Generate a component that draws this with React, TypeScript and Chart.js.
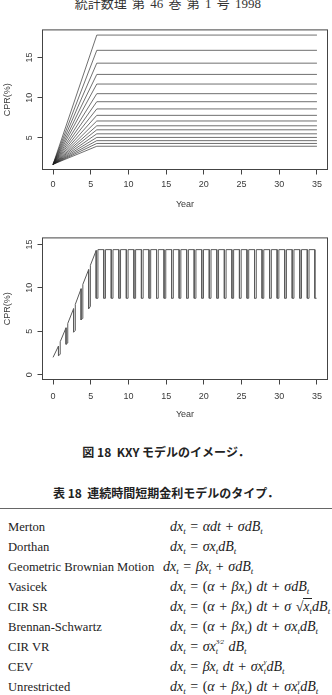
import React, { useEffect, useRef } from "react";
import { Chart, registerables } from "chart.js";

Chart.register(...registerables);

// ---------- data: chart 1 (fan of CPR paths) ----------
const fanYears = [0, 5.8, 35];
const fanStart = 1.7;
const fanLevels = [17.8, 15.9, 14.3, 12.9, 11.7, 10.5, 9.5, 8.6, 7.8, 7.1, 6.5, 6.0, 5.5, 5.05, 4.65, 4.3, 3.95];
const xTickValues = [0, 5, 10, 15, 20, 25, 30, 35];
const fanYTicks = [5, 10, 15];

// ---------- data: chart 2 (seasonal CPR path) ----------
const sawStartValue = 2.0;
const sawDipStartFrac = 0.72; // fraction of the year where the dip starts
const sawDipEndFrac = 0.95; // fraction of the year where the dip ends
const sawPeak = [3.3, 5.4, 7.6, 9.9, 12.1, 14.3,
  14.4, 14.4, 14.4, 14.4, 14.4, 14.4, 14.4, 14.4, 14.4, 14.4,
  14.4, 14.4, 14.4, 14.4, 14.4, 14.4, 14.4, 14.4, 14.4, 14.4,
  14.4, 14.4, 14.4, 14.4, 14.4, 14.4, 14.4, 14.4, 14.4];
const sawTroughStart = [2.2, 3.5, 4.9, 6.3, 7.6, 8.8,
  8.8, 8.8, 8.8, 8.8, 8.8, 8.8, 8.8, 8.8, 8.8, 8.8,
  8.8, 8.8, 8.8, 8.8, 8.8, 8.8, 8.8, 8.8, 8.8, 8.8,
  8.8, 8.8, 8.8, 8.8, 8.8, 8.8, 8.8, 8.8, 8.8];
const sawTroughEnd = [2.35, 3.65, 5.1, 6.5, 7.85, 8.8,
  8.8, 8.8, 8.8, 8.8, 8.8, 8.8, 8.8, 8.8, 8.8, 8.8,
  8.8, 8.8, 8.8, 8.8, 8.8, 8.8, 8.8, 8.8, 8.8, 8.8,
  8.8, 8.8, 8.8, 8.8, 8.8, 8.8, 8.8, 8.8, 8.8];
const sawResume = [3.8, 5.9, 8.1, 10.4, 12.6, 14.4,
  14.4, 14.4, 14.4, 14.4, 14.4, 14.4, 14.4, 14.4, 14.4, 14.4,
  14.4, 14.4, 14.4, 14.4, 14.4, 14.4, 14.4, 14.4, 14.4, 14.4,
  14.4, 14.4, 14.4, 14.4, 14.4, 14.4, 14.4, 14.4];
const sawYTicks = [0, 5, 10, 15];

// ---------- text ----------
const headerText = "統計数理 第 46 巻 第 1 号 1998";
const figCaption = "図 18  KXY モデルのイメージ．";
const tableTitle = "表 18  連続時間短期金利モデルのタイプ．";
const modelNames = [
  "Merton",
  "Dorthan",
  "Geometric Brownian Motion",
  "Vasicek",
  "CIR SR",
  "Brennan-Schwartz",
  "CIR VR",
  "CEV",
  "Unrestricted",
];

const AXIS_FONT = { family: "'Liberation Sans', Arial, sans-serif", size: 9 };
const INK = "#3a3a3a";

const boxPlugin = {
  id: "rbox",
  afterDraw(chart: any) {
    const { ctx, chartArea: a } = chart;
    ctx.save();
    ctx.strokeStyle = "#444";
    ctx.lineWidth = 1;
    ctx.strokeRect(a.left, a.top, a.right - a.left, a.bottom - a.top);
    ctx.restore();
  },
};

function makeOptions(cfg: {
  yMin: number; yMax: number; yTicks: number[]; padTop: number; xHeight: number;
  xTickPad: number; xTitlePad: number;
}) {
  return {
    animation: false,
    responsive: false,
    maintainAspectRatio: false,
    devicePixelRatio: 1,
    layout: { padding: { top: cfg.padTop, right: 4.5, left: 0, bottom: 0 } },
    plugins: { legend: { display: false }, tooltip: { enabled: false } },
    elements: { point: { radius: 0 }, line: { tension: 0 } },
    scales: {
      x: {
        type: "linear",
        min: -1.4,
        max: 36.4,
        afterBuildTicks: (s: any) => { s.ticks = xTickValues.map((v) => ({ value: v })); },
        afterFit: (s: any) => { s.height = cfg.xHeight; },
        grid: { drawOnChartArea: false, drawTicks: true, tickLength: 5, color: "#444" },
        border: { display: false },
        ticks: { font: AXIS_FONT, color: INK, padding: cfg.xTickPad, maxRotation: 0, autoSkip: false },
        title: { display: true, text: "Year", font: AXIS_FONT, color: INK, padding: { top: 0, bottom: cfg.xTitlePad } },
      },
      y: {
        type: "linear",
        min: cfg.yMin,
        max: cfg.yMax,
        afterBuildTicks: (s: any) => { s.ticks = cfg.yTicks.map((v) => ({ value: v })); },
        afterFit: (s: any) => { s.width = 42.5; },
        grid: { drawOnChartArea: false, drawTicks: true, tickLength: 5, color: "#444" },
        border: { display: false },
        ticks: { font: AXIS_FONT, color: INK, padding: 2.5, minRotation: 90, maxRotation: 90, crossAlign: "center", autoSkip: false },
        title: { display: true, text: "CPR(%)", font: AXIS_FONT, color: INK, padding: { top: 2.6, bottom: 0 } },
      },
    },
  };
}

function FanChart() {
  const ref = useRef<HTMLCanvasElement>(null);
  useEffect(() => {
    const datasets = fanLevels.map((lvl) => ({
      data: [
        { x: fanYears[0], y: fanStart },
        { x: fanYears[1], y: lvl },
        { x: fanYears[2], y: lvl },
      ],
      borderColor: "rgba(30,30,30,0.8)",
      borderWidth: 0.8,
      pointRadius: 0,
      fill: false,
    }));
    const chart = new Chart(ref.current as HTMLCanvasElement, {
      type: "line",
      data: { datasets },
      options: makeOptions({ yMin: 1.056, yMax: 18.444, yTicks: fanYTicks, padTop: 5.5, xHeight: 47.5, xTickPad: 4.5, xTitlePad: 6.6 }) as any,
      plugins: [boxPlugin],
    });
    return () => chart.destroy();
  }, []);
  return <canvas ref={ref} width={332} height={195} style={{ position: "absolute", left: 0, top: 22, width: 332, height: 195 }} />;
}

function SawChart() {
  const ref = useRef<HTMLCanvasElement>(null);
  useEffect(() => {
    const pts: { x: number; y: number }[] = [{ x: 0, y: sawStartValue }];
    for (let k = 0; k < sawPeak.length; k++) {
      pts.push({ x: k + sawDipStartFrac, y: sawPeak[k] });
      pts.push({ x: k + sawDipStartFrac, y: sawTroughStart[k] });
      pts.push({ x: k + sawDipEndFrac, y: sawTroughEnd[k] });
      if (k < sawResume.length) pts.push({ x: k + sawDipEndFrac, y: sawResume[k] });
    }
    const chart = new Chart(ref.current as HTMLCanvasElement, {
      type: "line",
      data: {
        datasets: [{ data: pts, borderColor: "#5a5a5a", borderWidth: 1, pointRadius: 0, fill: false, borderJoinStyle: "miter" }],
      },
      options: makeOptions({ yMin: -0.55, yMax: 15.75, yTicks: sawYTicks, padTop: 7.5, xHeight: 45.5, xTickPad: 6.5, xTitlePad: 4.6 }) as any,
      plugins: [boxPlugin],
    });
    return () => chart.destroy();
  }, []);
  return <canvas ref={ref} width={332} height={195} style={{ position: "absolute", left: 0, top: 230, width: 332, height: 195 }} />;
}

const sub = (s: string) => (
  <sub style={{ fontSize: "9px", verticalAlign: "-3px", lineHeight: 0 }}>
    <i>{s}</i>
  </sub>
);
const stack = (top: React.ReactNode, bottom: string) => (
  <span style={{ display: "inline-block", verticalAlign: "-3px", lineHeight: "10px", fontSize: "8px", fontStyle: "italic", textAlign: "left" }}>
    <span style={{ fontSize: "7px" }}>{top}</span>
    <br />
    {bottom}
  </span>
);
const dx = <><i>dx</i>{sub("t")} = </>;
const dB = <><i>dB</i>{sub("t")}</>;
const drift = <>(<i>α</i> + <i>βx</i>{sub("t")}) <i>dt</i> + </>;

const formulas: React.ReactNode[] = [
  <>{dx}<i>αdt</i> + <i>σdB</i>{sub("t")}</>,
  <>{dx}<i>σx</i>{sub("t")}{dB}</>,
  <>{dx}<i>βx</i>{sub("t")} + <i>σdB</i>{sub("t")}</>,
  <>{dx}{drift}<i>σdB</i>{sub("t")}</>,
  <>{dx}{drift}<i>σ</i> √<span style={{ borderTop: "1px solid #222" }}><i>x</i>{sub("t")}</span>{dB}</>,
  <>{dx}{drift}<i>σx</i>{sub("t")}{dB}</>,
  <>{dx}<i>σx</i>{stack("3⁄2", "t")} {dB}</>,
  <>{dx}<i>βx</i>{sub("t")} <i>dt</i> + <i>σx</i>{stack("γ", "t")}{dB}</>,
  <>{dx}{drift}<i>σx</i>{stack("γ", "t")}{dB}</>,
];

const formulaLeft = [170, 170, 163, 170, 170, 170, 170, 170, 170];

export default function App() {
  useEffect(() => {
    Chart.defaults.font.family = AXIS_FONT.family;
  }, []);
  const serif = "'Liberation Serif', 'Times New Roman', serif";
  const jp = "'Noto Sans CJK JP', 'Noto Sans', sans-serif";
  return (
    <div style={{ position: "absolute", left: 0, top: 0, width: 332, height: 695, overflow: "hidden", background: "#fff", color: "#222" }}>
      <div style={{ position: "absolute", left: 0, top: -4, width: 336, height: 16, lineHeight: "16px", fontSize: 13, textAlign: "center", fontFamily: `${serif}, ${jp}`, wordSpacing: "2px", color: "#333" }}>
        {headerText}
      </div>
      <FanChart />
      <SawChart />
      <div style={{ position: "absolute", left: 0, top: 444, width: 332, height: 16, lineHeight: "16px", fontSize: 12, textAlign: "center", fontFamily: jp, fontWeight: 600, whiteSpace: "pre" }}>
        {figCaption}
      </div>
      <div style={{ position: "absolute", left: 0, top: 485, width: 332, height: 16, lineHeight: "16px", fontSize: 12, textAlign: "center", fontFamily: jp, fontWeight: 600, whiteSpace: "pre" }}>
        {tableTitle}
      </div>
      <div style={{ position: "absolute", left: 0, top: 508, width: 332, height: 1, background: "#666" }} />
      {modelNames.map((name, i) => (
        <React.Fragment key={name}>
          <div style={{ position: "absolute", left: 8, top: 517 + i * 20, height: 20, lineHeight: "20px", fontSize: 12.6, fontFamily: serif, whiteSpace: "nowrap" }}>
            {name}
          </div>
          <div style={{ position: "absolute", left: formulaLeft[i], top: 517 + i * 20, height: 20, lineHeight: "20px", fontSize: 14, fontFamily: serif, whiteSpace: "nowrap", wordSpacing: "1px" }}>
            {formulas[i]}
          </div>
        </React.Fragment>
      ))}
    </div>
  );
}
